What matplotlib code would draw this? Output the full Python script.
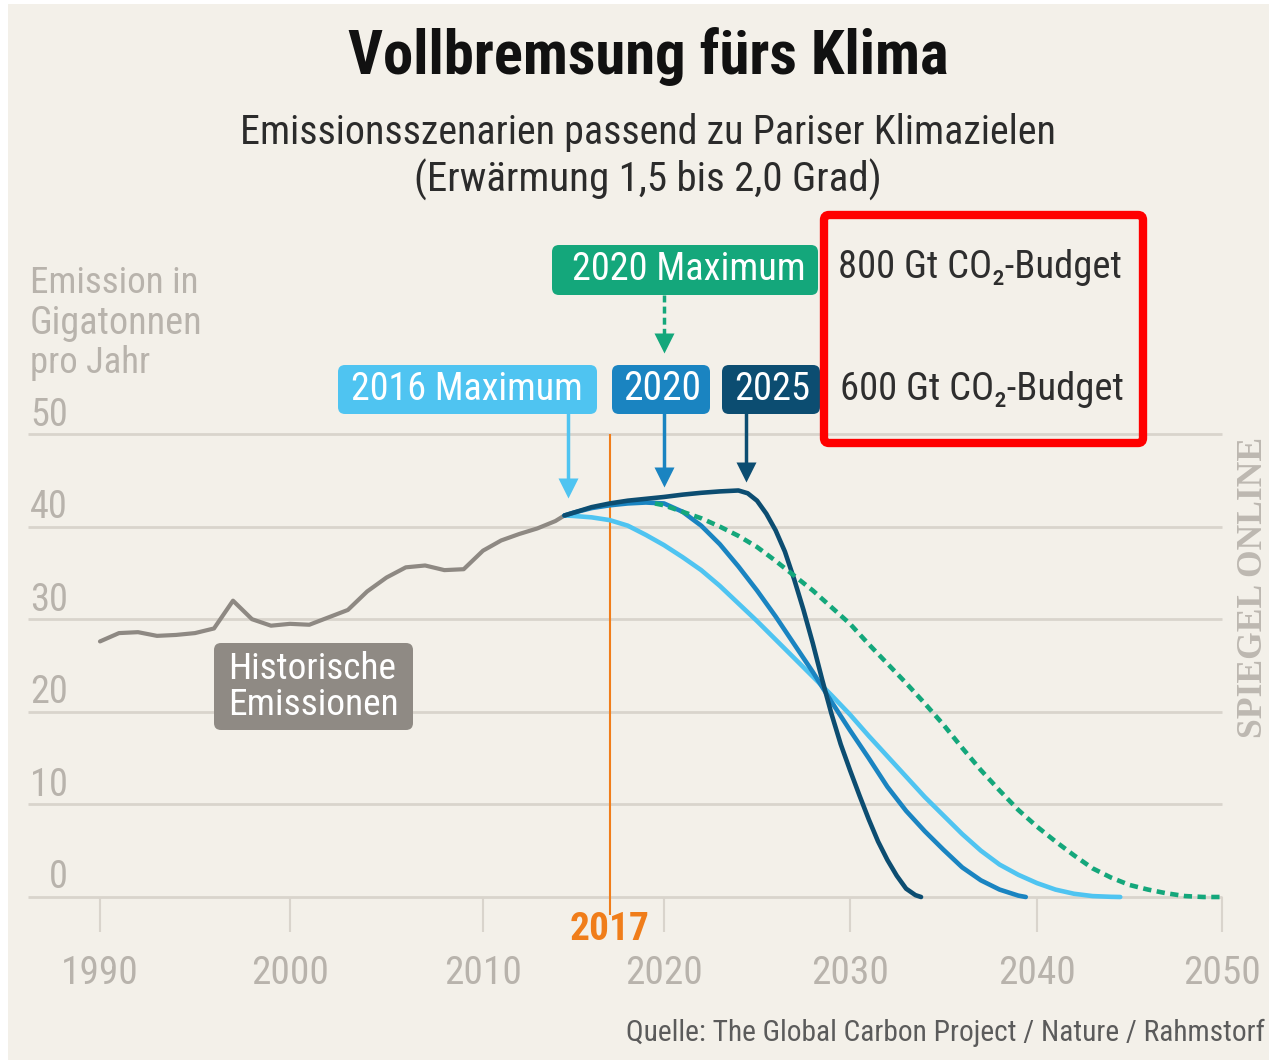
import numpy as np
import matplotlib
matplotlib.use("Agg")
import matplotlib.pyplot as plt
from matplotlib import font_manager
from matplotlib.patches import FancyBboxPatch, Rectangle
from matplotlib.transforms import Affine2D

W, H = 1269, 1060

# === Data ===
hist_years = list(range(1990, 2015)) + [2014.5]
hist_values = [27.6, 28.5, 28.6, 28.2, 28.3, 28.5, 29.0, 32.0, 30.0, 29.3,
               29.5, 29.4, 30.2, 31.0, 33.0, 34.5, 35.6, 35.8, 35.3, 35.4,
               37.4, 38.5, 39.2, 39.8, 40.6, 41.2]

max2016_years = [2014.5] + list(range(2015, 2045)) + [2044.5]
max2016_values = [41.2, 41.15, 41.0, 40.7, 40.1, 39.1, 38.0, 36.7, 35.3, 33.6,
                  31.7, 29.8, 27.8, 25.8, 23.8, 21.8, 19.7, 17.4, 15.2, 13.0,
                  10.8, 8.8, 6.8, 5.0, 3.5, 2.4, 1.5, 0.8, 0.35, 0.1, 0.02, 0.0]

max2020_years = [2014.5] + list(range(2015, 2040)) + [2039.4]
max2020_values = [41.2, 41.5, 42.0, 42.3, 42.5, 42.6, 42.5, 41.6, 40.1, 38.1,
                  35.7, 33.1, 30.3, 27.3, 24.3, 21.1, 18.0, 15.0, 11.9, 9.3,
                  7.1, 5.1, 3.2, 1.8, 0.8, 0.15, 0.0]

max2025_years = [2014.5, 2015, 2016, 2017, 2018, 2019, 2020, 2021, 2022, 2023,
                 2024, 2024.5, 2025, 2025.5, 2026, 2026.5, 2027, 2027.5, 2028,
                 2028.5, 2029, 2029.5, 2030, 2030.5, 2031, 2031.5, 2032,
                 2032.5, 2033, 2033.5, 2033.8]
max2025_values = [41.2, 41.5, 42.1, 42.5, 42.8, 43.0, 43.2, 43.45, 43.65, 43.8,
                  43.9, 43.6, 42.8, 41.4, 39.6, 37.3, 34.3, 31.0, 27.4,
                  23.5, 19.8, 16.5, 13.7, 11.0, 8.4, 6.0, 4.0,
                  2.3, 0.9, 0.2, 0.0]

green_years = [2019.5] + list(range(2020, 2051))
green_values = [42.5, 42.3, 41.6, 40.9, 40.0, 39.0, 37.8, 36.3, 34.7, 33.1,
                31.3, 29.5, 27.3, 25.2, 23.1, 20.9, 18.6, 16.1, 13.7, 11.5,
                9.4, 7.6, 6.0, 4.5, 3.1, 2.1, 1.3, 0.8, 0.4, 0.1, 0.0, 0.0]

arrow_years = [2014.7, 2020.0, 2024.4]
y_ticks = [0, 10, 20, 30, 40, 50]
x_ticks = [1990, 2000, 2010, 2020, 2030, 2040, 2050]
marker_year = 2017

# === Colours ===
BG = "#f3f0e9"
GRID = "#d9d4cc"
TICK = "#b8b3ac"
HIST = "#8e8983"
LIGHT = "#4fc4f1"
MID = "#1a84c1"
DARK = "#0c4d71"
GREEN = "#14a77b"
ORANGE = "#f07d1a"

installed = {f.name for f in font_manager.fontManager.ttflist}


def pick(*names):
    for n in names:
        if n in installed:
            return n
    return "DejaVu Sans"


COND = pick("Roboto Condensed", "Liberation Sans Narrow", "Open Sans Condensed",
            "Noto Sans Condensed", "Roboto", "Noto Sans")
SERIF = pick("Liberation Serif", "DejaVu Serif")

# the original's decade ticks are not evenly spaced: piecewise x scale
TICK_PX = np.array([100, 290, 483, 664, 850, 1037, 1222], float)
TY = np.array(x_ticks, float)
S0 = (TICK_PX[1] - TICK_PX[0]) / 10
S1 = (TICK_PX[-1] - TICK_PX[-2]) / 10


def fwd(x):
    x = np.asarray(x, float)
    r = np.interp(x, TY, TICK_PX)
    r = np.where(x < TY[0], TICK_PX[0] + (x - TY[0]) * S0, r)
    return np.where(x > TY[-1], TICK_PX[-1] + (x - TY[-1]) * S1, r)


def inv(p):
    p = np.asarray(p, float)
    r = np.interp(p, TICK_PX, TY)
    r = np.where(p < TICK_PX[0], TY[0] + (p - TICK_PX[0]) / S0, r)
    return np.where(p > TICK_PX[-1], TY[-1] + (p - TICK_PX[-1]) / S1, r)


PX_UNIT = (897 - 434) / 50.0


def xd(px):
    return float(inv(px))


def yd(py):
    return (897 - py) / PX_UNIT


fig = plt.figure(figsize=(W / 100, H / 100), dpi=100)
fig.patch.set_facecolor("white")
ax = fig.add_axes([0, 0, 1, 1])
ax.set_xscale("function", functions=(fwd, inv))
ax.set_xlim(xd(0), xd(W))
ax.set_ylim(yd(H), yd(0))
ax.axis("off")

pix = Affine2D().scale(1, -1).translate(0, H)
renderer = fig.canvas.get_renderer()

ax.add_patch(Rectangle((8, 4), W - 8, H - 4, transform=pix, facecolor=BG,
                       edgecolor="none", zorder=0))


def txt(x, y, s, width=None, height=None, size=20, **kw):
    kw.setdefault("family", [COND, "DejaVu Sans"])
    t = ax.text(x, y, s, transform=pix, fontsize=size, **kw)
    ext = t.get_window_extent(renderer)
    if width:
        t.set_fontsize(size * width / ext.width)
    elif height:
        t.set_fontsize(size * height / ext.height)
    return t


def box(x0, y0, x1, y1, color, z=3):
    ax.add_patch(FancyBboxPatch((x0, y0), x1 - x0, y1 - y0, transform=pix,
                                boxstyle="round,pad=0,rounding_size=7",
                                facecolor=color, edgecolor="none", zorder=z))


# grid + ticks
ax.hlines(y_ticks, xd(28), 2050, color=GRID, lw=2, zorder=1)
ax.vlines(x_ticks, yd(932), 0, color=GRID, lw=1.5, zorder=1)

# titles
txt(648, 57, "Vollbremsung fürs Klima", width=600, size=40,
    ha="center", va="center", weight="bold", color="#111111")
txt(648, 132, "Emissionsszenarien passend zu Pariser Klimazielen", width=817,
    size=26, ha="center", va="center", color="#2b2b2b")
txt(648, 180, "(Erwärmung 1,5 bis 2,0 Grad)", width=468, size=26,
    ha="center", va="center", color="#2b2b2b")

# y label and tick labels
for line, yy, ww in [("Emission in", 283, 169), ("Gigatonnen", 323, 173),
                     ("pro Jahr", 363, 120)]:
    txt(30, yy, line, width=ww, size=24, ha="left", va="center", color=TICK)
ref = txt(68, 415, "50", width=38, size=24, ha="right", va="center", color=TICK)
fs_y = ref.get_fontsize()
for v in y_ticks[:-1]:
    py = 897 - v * PX_UNIT
    ax.text(68, py - 19, str(v), transform=pix, fontsize=fs_y,
            family=[COND, "DejaVu Sans"], ha="right", va="center", color=TICK)

ref = txt(100, 973, "1990", width=78, size=24, ha="center", va="center", color=TICK)
fs_x = ref.get_fontsize()
for yr in x_ticks[1:]:
    ax.text(yr, yd(973), str(yr), fontsize=fs_x, family=[COND, "DejaVu Sans"],
            ha="center", va="center", color=TICK)

# 2017 marker
ax.vlines(marker_year, yd(915), 50, color=ORANGE, lw=1.5, zorder=2)
ax.text(marker_year, yd(930), str(marker_year), fontsize=fs_x,
        family=[COND, "DejaVu Sans"], ha="center", va="center",
        color=ORANGE, weight="bold")

# series
ax.plot(hist_years, hist_values, color=HIST, lw=3, zorder=4,
        solid_capstyle="round", solid_joinstyle="round")
ax.plot(max2016_years, max2016_values, color=LIGHT, lw=3.3, zorder=4,
        solid_capstyle="round", solid_joinstyle="round")
ax.plot(max2020_years, max2020_values, color=MID, lw=3.3, zorder=5,
        solid_capstyle="round", solid_joinstyle="round")
ax.plot(green_years, green_values, color=GREEN, lw=3.3, zorder=6,
        dashes=(1.8, 1.2))
ax.plot(max2025_years, max2025_values, color=DARK, lw=3.3, zorder=5,
        solid_capstyle="round", solid_joinstyle="round")

# label boxes
box(338, 365, 597, 414, LIGHT)
txt(467, 389, "2016 Maximum", width=232, size=24, ha="center", va="center",
    color="white", zorder=4)
box(612, 365, 710, 414, MID)
txt(662, 389, "2020", width=78, size=24, ha="center", va="center",
    color="white", zorder=4)
box(722, 365, 820, 414, DARK)
txt(772, 389, "2025", width=76, size=24, ha="center", va="center",
    color="white", zorder=4)
box(552, 245, 818, 295, GREEN)
txt(689, 269, "2020 Maximum", width=234, size=24, ha="center", va="center",
    color="white", zorder=4)
box(214, 643, 413, 730, "#8f8a84")
txt(228, 669, "Historische", width=169, size=24, ha="left", va="center",
    color="white", zorder=4)
txt(228, 705, "Emissionen", width=171, size=24, ha="left", va="center",
    color="white", zorder=4)

# arrows
for xx, tip, col in zip(arrow_years, [497, 486, 481], [LIGHT, MID, DARK]):
    ax.plot([xx, xx], [yd(414), yd(tip - 12)], color=col, lw=2.5, zorder=3)
    ax.plot(xx, yd(tip - 9), marker="v", ms=15, color=col, mec="none", zorder=3)
ax.plot([arrow_years[1]] * 2, [yd(295), yd(340)], color=GREEN, lw=2.5,
        dashes=(2, 1.2), zorder=3)
ax.plot(arrow_years[1], yd(343), marker="v", ms=15, color=GREEN, mec="none",
        zorder=3)

# budget texts + red frame
txt(838, 268, "800 Gt CO₂-Budget", width=284, size=24, ha="left",
    va="center", color="#2e2e2e")
txt(840, 389, "600 Gt CO₂-Budget", width=284, size=24, ha="left",
    va="center", color="#2e2e2e")
ax.add_patch(FancyBboxPatch((824, 215), 319, 228, transform=pix,
                            boxstyle="round,pad=0,rounding_size=5",
                            facecolor="none", edgecolor="#ff0000", lw=6,
                            zorder=8))

# branding + source
txt(1253, 587, "SPIEGEL ONLINE", height=300, size=22, rotation=90,
    ha="center", va="center", color="#bdb8b1", family=SERIF, weight="bold")
txt(1265, 1033, "Quelle: The Global Carbon Project / Nature / Rahmstorf",
    width=638, size=20, ha="right", va="center", color="#5b5b5b")

fig.savefig("out.png", dpi=100, facecolor=fig.get_facecolor())
